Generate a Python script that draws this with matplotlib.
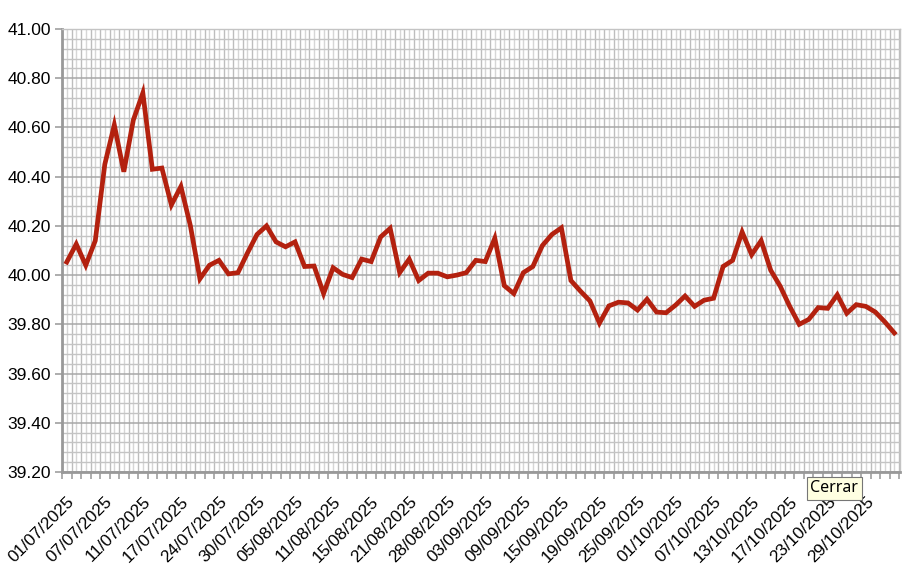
import pandas as pd
import matplotlib.pyplot as plt
from matplotlib.ticker import MultipleLocator

plt.rcParams['font.family'] = ['Liberation Sans', 'DejaVu Sans']

# días hábiles (sin feriados 18/07 y 25/08)
fechas = pd.bdate_range('2025-07-01', '2025-11-03', freq='C',
                        holidays=['2025-07-18', '2025-08-25'])
etiquetas = [d.strftime('%d/%m/%Y') for d in fechas]

cotizacion = [
    40.053, 40.126, 40.040, 40.140, 40.450, 40.610, 40.420, 40.630, 40.740, 40.430,
    40.435, 40.285, 40.360, 40.200, 39.985, 40.040, 40.060, 40.005, 40.010, 40.090,
    40.165, 40.200, 40.135, 40.115, 40.135, 40.035, 40.037, 39.925, 40.030, 40.003,
    39.990, 40.065, 40.055, 40.155, 40.190, 40.010, 40.065, 39.978, 40.008, 40.008,
    39.993, 40.000, 40.010, 40.060, 40.055, 40.150, 39.957, 39.925, 40.010, 40.035,
    40.120, 40.165, 40.192, 39.978, 39.935, 39.895, 39.805, 39.875, 39.890, 39.887,
    39.858, 39.902, 39.850, 39.847, 39.878, 39.915, 39.873, 39.898, 39.906, 40.035,
    40.060, 40.175, 40.083, 40.140, 40.020, 39.955, 39.873, 39.800, 39.820, 39.868,
    39.865, 39.920, 39.845, 39.880, 39.873, 39.850, 39.810, 39.765,
]

n = len(cotizacion)
x = list(range(n))

fig = plt.figure(figsize=(9.17, 5.67), dpi=100)
ax = fig.add_axes([0.0676, 0.1675, 0.9139, 0.7814])

ax.plot(x, cotizacion, color='#b3210f', linewidth=3.4, solid_joinstyle='miter', zorder=3)

ax.set_xlim(-0.5, n - 0.4)
ax.set_ylim(39.2, 41.0)

# eje x: etiquetas cada 4 días en el centro, marcas en los bordes
ax.set_xticks(x)
ax.set_xticklabels([e if i % 4 == 0 and i < 85 else '' for i, e in enumerate(etiquetas)],
                   rotation=45, ha='right', va='top', rotation_mode='anchor', fontsize=12.3)
ax.set_xticks([i - 0.5 for i in range(n + 1)], minor=True)
ax.tick_params(axis='x', which='major', length=0, pad=16)
ax.tick_params(axis='x', which='minor', length=5, color='#a0a0a0', width=1.2)

ax.yaxis.set_major_locator(MultipleLocator(0.2))
ax.yaxis.set_minor_locator(MultipleLocator(0.04))
ax.set_yticklabels([f'{v:.2f}' for v in ax.get_yticks()], fontsize=12.5)
ax.tick_params(axis='y', which='major', length=5, color='#a0a0a0', width=1.2, pad=3)
ax.tick_params(axis='y', which='minor', length=0)

ax.grid(which='major', axis='x', color='#d6d6d6', linewidth=1)
ax.grid(which='minor', axis='x', color='#bdbdbd', linewidth=1)
ax.grid(which='minor', axis='y', color='#c4c4c4', linewidth=1)
ax.grid(which='major', axis='y', color='#a8a8a8', linewidth=1.1)
ax.set_axisbelow(True)

for lado in ['left', 'bottom']:
    ax.spines[lado].set_color('#999999')
    ax.spines[lado].set_linewidth(2)
for lado in ['top', 'right']:
    ax.spines[lado].set_color('#c4c4c4')
    ax.spines[lado].set_linewidth(1)

# tooltip
fig.text(0.8837, 0.139, 'Cerrar', fontsize=11.5, ha='left', va='center',
         family=['Noto Sans', 'DejaVu Sans'],
         bbox=dict(boxstyle='square,pad=0.22', facecolor='#ffffe1', edgecolor='#767676',
                   linewidth=0.8), zorder=10)

fig.savefig('out.png', dpi=100)
